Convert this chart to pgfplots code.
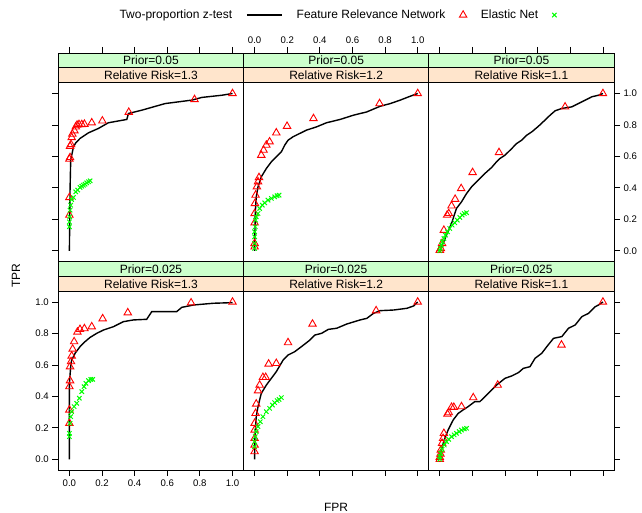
\documentclass[border=0pt]{standalone}
\usepackage{pgfplots}
\pgfplotsset{compat=1.18}
\usepackage{fontspec}
\setmainfont{Liberation Sans}
\definecolor{stripgreen}{HTML}{CCFFCC}
\definecolor{striporange}{HTML}{FFE5CC}
\definecolor{rred}{HTML}{FF0000}
\definecolor{rgreen}{HTML}{00FF00}
\newcommand\lf{\fontsize{12}{14}\selectfont}
\newcommand\tf{\fontsize{9.6}{11}\selectfont}
% strip pair on top of a panel: #1 prior, #2 relative risk
\newcommand\strips[2]{%
  \fill[stripgreen] (rel axis cs:0,0.92852) rectangle (rel axis cs:1,1);
  \fill[striporange] (rel axis cs:0,0.85704) rectangle (rel axis cs:1,0.92852);
  \draw[line width=0.8pt] (rel axis cs:0,0.85704) -- (rel axis cs:1,0.85704);
  \draw[line width=0.8pt] (rel axis cs:0,0.92852) -- (rel axis cs:1,0.92852);
  \node[font=\lf, inner sep=0pt] at (rel axis cs:0.5,0.9643) {#1};
  \node[font=\lf, inner sep=0pt] at (rel axis cs:0.5,0.8928) {#2};
}
\pgfplotsset{
  panel/.style={scale only axis, width=185.3pt, height=208.5pt, anchor=south west,
    xmin=-0.068, xmax=1.068, ymin=-0.068, ymax=1.2575,
    xtick={0,0.2,0.4,0.6,0.8,1}, ytick={0,0.2,0.4,0.6,0.8,1},
    tick align=outside, major tick length=6pt, axis on top,
    axis line style={line width=0.8pt, black},
    major tick style={line width=0.8pt, black},
    tick label style={font=\tf},
    /pgf/number format/fixed, /pgf/number format/fixed zerofill,
    /pgf/number format/precision=1, /pgf/number format/assume math mode=true},
  frn/.style={black, line width=1.4pt, no marks},
  lineleg/.style={legend image code/.code={\draw[##1] (0pt,0pt) -- (35pt,0pt);}},
  tri/.style={only marks, mark=triangle, mark size=4.3pt, rred, mark options={line width=0.9pt}},
  enx/.style={only marks, mark=x, mark size=3.1pt, rgreen, mark options={line width=1pt}},
}
\begin{document}
\begin{tikzpicture}
\useasboundingbox (0,0) rectangle (642pt,513pt);

% ---- top row: Prior=0.05 ----
\begin{axis}[panel, at={(58.3pt,251.5pt)}, xtick pos=right, xticklabels={}, ytick pos=left, yticklabels={}]
\strips{Prior=0.05}{Relative Risk=1.3}
\addplot[frn] coordinates {(0,0) (0.004,0.386) (0.008,0.576) (0.025,0.661) (0.039,0.686) (0.065,0.714) (0.117,0.750) (0.178,0.778) (0.239,0.814) (0.352,0.835) (0.362,0.873) (0.444,0.894) (0.587,0.936) (0.751,0.958) (0.812,0.975) (0.935,0.989) (1,1)};
\addplot[tri] coordinates {(1,1) (0.767,0.962) (0.364,0.881) (0.202,0.826) (0.137,0.814) (0.092,0.805) (0.076,0.803) (0.059,0.803) (0.047,0.799) (0.039,0.788) (0.031,0.763) (0.018,0.742) (0.014,0.720) (0.010,0.676) (0.004,0.665) (0.004,0.593) (0,0.583) (0,0.339) (0,0.227)};
\addplot[enx] coordinates {(0,0.153) (0,0.184) (0.002,0.216) (0.004,0.258) (0.008,0.290) (0.014,0.326) (0.025,0.339) (0.039,0.375) (0.051,0.386) (0.065,0.403) (0.076,0.411) (0.086,0.417) (0.096,0.424) (0.106,0.432) (0.117,0.439) (0.127,0.445)};
\end{axis}

\begin{axis}[panel, at={(243.5pt,251.5pt)}, xtick pos=right, xticklabel pos=right, ytick=\empty,
  legend plot pos=right, legend columns=3,
  legend style={draw=none, fill=none, at={(0.505,1.182)}, anchor=center, font=\lf, inner sep=0pt, /tikz/column sep=12pt}]
\strips{Prior=0.05}{Relative Risk=1.2}
\addplot[frn, lineleg] coordinates {(0,0) (0.004,0.237) (0.010,0.343) (0.021,0.407) (0.041,0.470) (0.072,0.523) (0.103,0.566) (0.133,0.597) (0.164,0.629) (0.185,0.672) (0.205,0.703) (0.236,0.725) (0.277,0.746) (0.318,0.767) (0.380,0.788) (0.441,0.814) (0.524,0.835) (0.606,0.862) (0.688,0.883) (0.770,0.919) (0.832,0.936) (0.893,0.958) (0.955,0.983) (1,1)};
\addplot[tri] coordinates {(1,1) (0.766,0.936) (0.361,0.841) (0.199,0.792) (0.133,0.750) (0.092,0.693) (0.072,0.672) (0.055,0.640) (0.041,0.608) (0.027,0.466) (0.021,0.439) (0.014,0.407) (0.006,0.354) (0.002,0.301) (0,0.237) (0,0.178) (0,0.047) (0,0.025)};
\addplot[enx] coordinates {(0,0.015) (0,0.047) (0,0.089) (0,0.121) (0.004,0.153) (0.006,0.195) (0.010,0.216) (0.021,0.237) (0.031,0.269) (0.047,0.290) (0.062,0.305) (0.082,0.322) (0.103,0.333) (0.123,0.343) (0.138,0.350) (0.150,0.354)};
\legend{Two-proportion z-test, Feature Relevance Network, Elastic Net}
\end{axis}

\begin{axis}[panel, at={(428.7pt,251.5pt)}, xtick pos=right, xticklabels={}, ytick pos=right, yticklabel pos=right]
\strips{Prior=0.05}{Relative Risk=1.1}
\addplot[frn] coordinates {(0,0) (0.020,0.047) (0.041,0.100) (0.072,0.174) (0.102,0.269) (0.133,0.311) (0.164,0.364) (0.195,0.407) (0.236,0.449) (0.277,0.492) (0.318,0.530) (0.348,0.566) (0.369,0.587) (0.400,0.608) (0.441,0.650) (0.471,0.682) (0.502,0.703) (0.533,0.735) (0.564,0.756) (0.605,0.792) (0.645,0.831) (0.676,0.862) (0.707,0.890) (0.748,0.905) (0.809,0.915) (0.871,0.947) (0.932,0.979) (0.973,0.989) (1,1)};
\addplot[tri] coordinates {(1,1) (0.768,0.915) (0.363,0.625) (0.201,0.498) (0.131,0.396) (0.094,0.328) (0.072,0.286) (0.055,0.237) (0.045,0.227) (0.025,0.131) (0.014,0.047) (0.006,0.015) (0,0.004)};
\addplot[enx] coordinates {(0,0) (0.004,0.015) (0.010,0.036) (0.016,0.057) (0.025,0.078) (0.035,0.100) (0.047,0.121) (0.061,0.142) (0.076,0.163) (0.092,0.178) (0.107,0.195) (0.123,0.212) (0.137,0.227) (0.150,0.237) (0.164,0.242)};
\end{axis}

% ---- bottom row: Prior=0.025 ----
\begin{axis}[panel, at={(58.3pt,43pt)}, xtick pos=left, ytick pos=left]
\strips{Prior=0.025}{Relative Risk=1.3}
\addplot[frn] coordinates {(0,0) (0,0.483) (0.008,0.589) (0.014,0.631) (0.035,0.674) (0.065,0.716) (0.096,0.748) (0.127,0.775) (0.168,0.801) (0.209,0.822) (0.270,0.843) (0.331,0.875) (0.393,0.886) (0.474,0.890) (0.505,0.939) (0.658,0.939) (0.689,0.966) (0.761,0.981) (0.883,0.992) (1,0.996)};
\addplot[tri] coordinates {(1,1) (0.746,0.995) (0.358,0.932) (0.204,0.894) (0.137,0.843) (0.092,0.831) (0.065,0.826) (0.049,0.809) (0.029,0.748) (0.020,0.701) (0.014,0.657) (0.010,0.621) (0.004,0.589) (0.004,0.500) (0,0.462) (0,0.314) (0,0.229)};
\addplot[enx] coordinates {(0,0.144) (0,0.165) (0.004,0.229) (0.008,0.271) (0.014,0.303) (0.029,0.335) (0.045,0.356) (0.061,0.388) (0.076,0.430) (0.090,0.462) (0.102,0.483) (0.117,0.500) (0.131,0.508) (0.143,0.508)};
\end{axis}

\begin{axis}[panel, at={(243.5pt,43pt)}, xtick pos=left, xticklabels={}, ytick=\empty]
\strips{Prior=0.025}{Relative Risk=1.2}
\addplot[frn] coordinates {(0,0) (0.002,0.144) (0.010,0.271) (0.021,0.335) (0.041,0.419) (0.072,0.472) (0.103,0.515) (0.133,0.557) (0.175,0.631) (0.205,0.663) (0.246,0.684) (0.287,0.716) (0.339,0.758) (0.370,0.790) (0.411,0.801) (0.452,0.826) (0.503,0.833) (0.565,0.860) (0.647,0.886) (0.688,0.896) (0.729,0.928) (0.770,0.945) (0.852,0.949) (0.934,0.960) (0.975,0.975) (1,1)};
\addplot[tri] coordinates {(1,1) (0.745,0.945) (0.355,0.860) (0.205,0.742) (0.133,0.610) (0.086,0.606) (0.068,0.521) (0.051,0.521) (0.031,0.472) (0.021,0.436) (0.010,0.352) (0.006,0.292) (0,0.229) (0,0.186) (0,0.133) (0,0.091) (0,0.049)};
\addplot[enx] coordinates {(0,0.081) (0,0.112) (0.004,0.144) (0.010,0.176) (0.021,0.208) (0.035,0.239) (0.051,0.271) (0.072,0.303) (0.092,0.324) (0.109,0.345) (0.123,0.360) (0.138,0.373) (0.150,0.381) (0.164,0.392)};
\end{axis}

\begin{axis}[panel, at={(428.7pt,43pt)}, xtick pos=left, xticklabels={}, ytick pos=right, yticklabels={}]
\strips{Prior=0.025}{Relative Risk=1.1}
\addplot[frn] coordinates {(0,0) (0.010,0.059) (0.027,0.123) (0.051,0.186) (0.082,0.250) (0.113,0.292) (0.143,0.314) (0.174,0.335) (0.215,0.367) (0.246,0.367) (0.287,0.409) (0.318,0.441) (0.348,0.472) (0.400,0.515) (0.441,0.530) (0.482,0.551) (0.512,0.578) (0.553,0.589) (0.584,0.642) (0.625,0.674) (0.656,0.716) (0.697,0.769) (0.748,0.780) (0.789,0.833) (0.830,0.854) (0.871,0.907) (0.912,0.928) (0.953,0.970) (0.973,0.981) (1,1)};
\addplot[tri] coordinates {(1,1) (0.746,0.727) (0.355,0.472) (0.205,0.392) (0.133,0.335) (0.086,0.331) (0.072,0.331) (0.055,0.297) (0.047,0.288) (0.025,0.165) (0.020,0.133) (0.014,0.102) (0.006,0.059) (0.004,0.034) (0,0.013) (0,0)};
\addplot[enx] coordinates {(0,0) (0,0.017) (0.006,0.038) (0.014,0.064) (0.027,0.091) (0.041,0.112) (0.055,0.127) (0.072,0.144) (0.088,0.155) (0.102,0.165) (0.119,0.176) (0.133,0.186) (0.150,0.193) (0.164,0.197)};
\end{axis}

\node[font=\lf, rotate=90, inner sep=0pt] at (16pt,237pt) {TPR};
\node[font=\lf, inner sep=0pt, anchor=base] at (336pt,1.5pt) {FPR};
\end{tikzpicture}
\end{document}
